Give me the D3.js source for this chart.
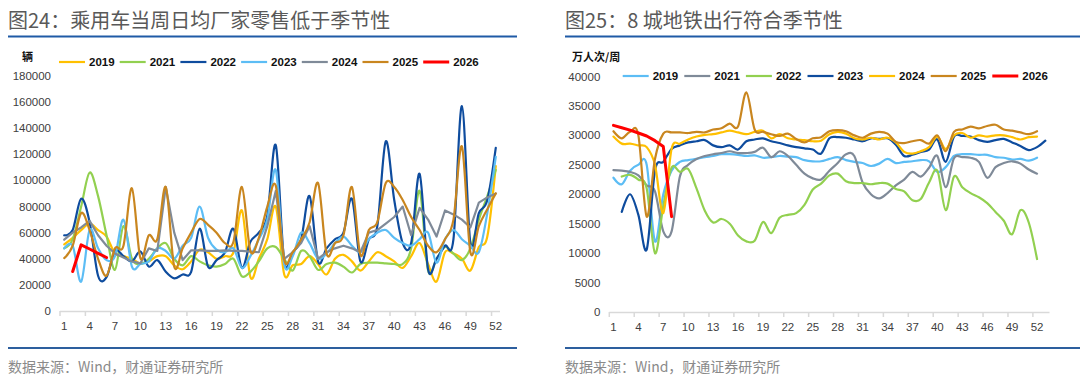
<!DOCTYPE html>
<html>
<head>
<meta charset="utf-8">
<script src="https://cdn.jsdelivr.net/npm/d3@7"></script>
<style>
body { margin: 0; background: #fff; }
svg text { font-family: "Liberation Sans", Arial, "Noto Sans CJK SC", sans-serif; }
.cjk { font-family: "Noto Sans CJK SC", sans-serif !important; }
</style>
</head>
<body>
<svg id="chart" width="1080" height="379"></svg>
<script>
// ---- left chart: car retail per day, weeks 1..52 ----
const weeksLeft = d3.range(1, 53);
const yTicksLeft = [0, 20000, 40000, 60000, 80000, 100000, 120000, 140000, 160000, 180000];
const car2019 = [51000, 56000, 62000, 67000, 62000, 57000, 44000, 42000, 40000, 36500, 38000, 42000, 42000, 35000, 32000, 38000, 47000, 45000, 40000, 42000, 45000, 77000, 26000, 40000, 55000, 80000, 28000, 35000, 36000, 42000, 36000, 28000, 40000, 43000, 38000, 31000, 38000, 45000, 42000, 38000, 33000, 42000, 52000, 36000, 22500, 45000, 44000, 40000, 31000, 49000, 57000, 111000];
const car2021 = [48000, 55000, 80000, 106000, 88000, 58000, 31500, 65000, 40000, 36000, 40000, 48000, 52000, 40000, 35000, 42000, 38000, 35000, 34000, 36000, 40000, 26500, 30000, 38000, 48000, 49000, 40000, 31000, 46000, 42000, 31500, 36000, 37000, 34000, 29500, 36000, 37000, 37000, 36500, 36000, 36000, 48000, 92000, 31000, 40000, 49000, 44000, 39000, 48000, 70000, 88000, 108000];
const car2022 = [58000, 62000, 86000, 68000, 27000, 26000, 46000, 42000, 38000, 45600, 34000, 39000, 30000, 25000, 28000, 30000, 63000, 34000, 39000, 45000, 63000, 33000, 53000, 60000, 73000, 127000, 38000, 45000, 55000, 88000, 38000, 48000, 55000, 60000, 86000, 38000, 55000, 65000, 130000, 85000, 52000, 52000, 105000, 32000, 40000, 50000, 55000, 157000, 52000, 75000, 85000, 125000];
const car2023 = [48000, 50000, 22500, 62000, 48000, 39000, 42000, 70000, 34000, 36000, 38000, 48000, 46000, 40000, 50000, 56000, 80000, 56000, 47000, 45000, 48000, 33000, 42000, 55000, 70000, 108000, 36000, 42000, 60000, 52000, 40000, 44000, 52000, 57000, 50000, 45000, 55000, 60000, 62000, 56000, 52000, 50000, 55000, 60000, 37000, 55000, 62000, 55000, 50000, 45000, 75000, 118000];
const car2024 = [54600, 60000, 64000, 69000, 58000, 50000, 44000, 41000, 38000, 36500, 48000, 46000, 95000, 60000, 39000, 46500, 46500, 46000, 46000, 46500, 46000, 46000, 45500, 45000, 65000, 92000, 40000, 45000, 52000, 65000, 40000, 45000, 48000, 50000, 48000, 45000, 60000, 62000, 67000, 72000, 80000, 58000, 79000, 70000, 57000, 77000, 74000, 70000, 64000, 83000, 87000, 90000];
const car2025 = [40500, 50000, 75000, 62000, 40000, 27000, 48000, 50000, 94000, 40500, 58000, 55000, 95000, 34000, 48000, 60000, 70500, 66000, 60000, 52000, 53000, 95000, 46000, 56000, 80000, 96000, 39000, 45000, 55000, 68000, 98000, 44000, 52000, 58000, 95000, 43000, 62000, 68000, 98000, 95000, 85000, 72000, 62000, 50000, 45000, 55000, 70000, 126000, 45000, 65000, 78000, 90000];
const car2026 = [null, 30200, 50700, 47500, 44200, 41000];

// ---- right chart: metro trips in 8 cities, weeks 1..53 ----
const weeksRight = d3.range(1, 54);
const yTicksRight = [0, 5000, 10000, 15000, 20000, 25000, 30000, 35000, 40000];
const metro2019 = [22800, 21700, 24000, 25000, 25000, 12000, 20000, 24000, 25500, 25800, 26000, 26300, 26500, 26800, 26800, 26700, 26500, 26600, 26200, 26300, 26500, 26400, 26300, 25800, 25600, 25600, 26000, 26300, 25800, 25500, 25300, 24800, 25200, 26000, 25300, 25500, 25600, 25800, 25600, 23800, 24600, 26500, 26800, 26800, 26700, 26700, 26300, 26200, 25900, 26000, 25700, 26200, null];
const metro2021 = [24100, 24000, 23800, 23200, 21500, 20500, 13700, 13700, 23000, 25000, 26000, 26500, 26800, 27000, 27300, 27000, 27000, 27200, 27900, 26300, 27300, 26500, 25000, 23500, 22700, 22500, 24000, 25300, 26800, 26500, 22000, 20000, 19300, 20200, 21500, 22500, 23800, 23000, 24500, 26500, 21200, 26100, 26300, 26200, 25500, 22800, 24600, 25300, 25600, 25200, 24200, 23500, null];
const metro2022 = [null, 23000, 23300, 22500, 21000, 10000, 18000, 24500, 23800, 24300, 21000, 17200, 15200, 15800, 15000, 13000, 12000, 12100, 15300, 13400, 16000, 16500, 16800, 18200, 20800, 21800, 23200, 23500, 22200, 21900, 21900, 21700, 21900, 21800, 20900, 20500, 19000, 19200, 22000, 24000, 17300, 23000, 21200, 20200, 19500, 18500, 17000, 15500, 13200, 17300, 15200, 9000, null];
const metro2023 = [null, 17000, 20000, 16500, 10600, 24000, 25500, 27700, 28300, 28800, 29000, 29200, 28300, 28000, 28300, 27600, 29000, 29300, 29500, 29000, 28700, 28300, 28000, 27800, 27600, 26900, 29500, 29700, 29600, 29300, 29000, 29500, 29400, 29500, 28400, 26500, 26700, 27200, 27600, 29300, 25500, 29800, 29900, 29800, 29200, 28900, 29200, 29400, 28800, 28200, 27500, 28000, 29100];
const metro2024 = [29800, 28600, 28600, 28300, 28000, 25000, 16800, 27700, 28600, 29300, 29800, 30100, 30200, 30500, 30800, 30500, 30200, 30600, 30800, 29500, 30200, 29500, 29300, 29200, 29000, 29100, 30200, 30600, 30300, 29500, 29300, 29600, 29300, 29600, 28800, 27200, 26900, 27300, 28000, 29800, 27700, 30000, 30400, 29600, 30000, 29800, 30000, 30000, 29700, 29300, 29700, 29800, null];
const metro2025 = [30700, 29500, 30600, 30000, 16200, 26000, 30300, 30500, 30500, 30400, 30600, 30500, 31000, 31200, 32000, 31500, 37300, 31000, 30600, 30200, 29900, 30300, 29400, 28800, 29500, 29700, 30700, 30900, 30700, 30000, 29600, 30300, 30600, 30300, 28900, 28700, 29000, 29200, 28600, 30000, 27300, 30600, 31000, 31500, 31200, 31600, 31800, 31000, 30800, 30500, 30200, 30700, null];
const metro2026 = [31700, 31300, 30900, 30400, 29900, 29100, 28100, 16200];

const tickWeeks = [1, 4, 7, 10, 13, 16, 19, 22, 25, 28, 31, 34, 37, 40, 43, 46, 49, 52];

const C_YELLOW = "#ffc000", C_GREEN = "#92d050", C_DARK = "#0e4c9e", C_LIGHT = "#5cbdf5",
      C_GRAY = "#7f8a98", C_ORANGE = "#c9861f", C_RED = "#ff0000";

const svg = d3.select("#chart");
const smooth = d3.curveCardinal.tension(0);

function drawPanel(o) {
  const g = svg.append("g");
  let x = d3.scaleBand().domain(o.weeks).range([o.left, o.right]);
  let y = d3.scaleLinear().domain([0, o.ymax]).range([o.bottom, o.top]);
  const bw = x.bandwidth();

  // title + rules
  g.append("text").attr("class", "cjk").attr("x", o.titleX).attr("y", 28)
    .attr("font-size", 20).attr("fill", "#595959").text(o.title);
  g.append("line").attr("x1", o.titleX).attr("x2", o.ruleEnd).attr("y1", 36.5).attr("y2", 36.5)
    .attr("stroke", "#1f5aa6").attr("stroke-width", 2);
  g.append("line").attr("x1", o.titleX).attr("x2", o.ruleEnd).attr("y1", 348).attr("y2", 348)
    .attr("stroke", "#2d5f9e").attr("stroke-width", 2);
  g.append("text").attr("class", "cjk").attr("x", o.titleX).attr("y", 372)
    .attr("font-size", 14).attr("fill", "#8a8a8a").text("数据来源：Wind，财通证券研究所");

  // unit label
  g.append("text").attr("class", "cjk").attr("x", o.unitX).attr("y", 61)
    .attr("font-size", 11).attr("font-weight", "bold").attr("fill", "#111").text(o.unit);

  // x axis
  g.append("line").attr("x1", o.left).attr("x2", o.right).attr("y1", o.bottom + 0.5).attr("y2", o.bottom + 0.5)
    .attr("stroke", "#d9d9d9").attr("stroke-width", 1.5);
  g.selectAll(".xt").data(tickWeeks).enter().append("line")
    .attr("x1", d => x(d)).attr("x2", d => x(d))
    .attr("y1", o.bottom).attr("y2", o.bottom + 5)
    .attr("stroke", "#d9d9d9").attr("stroke-width", 1.5);
  g.selectAll(".xl").data(tickWeeks).enter().append("text")
    .attr("x", d => x(d) + bw / 2).attr("y", o.bottom + 19)
    .attr("text-anchor", "middle").attr("font-size", 11.5).attr("fill", "#404040")
    .text(d => d);

  // y labels
  g.selectAll(".yl").data(o.yTicks).enter().append("text")
    .attr("x", o.left - 9).attr("y", d => y(d) + 4)
    .attr("text-anchor", "end").attr("font-size", 11.5).attr("fill", "#404040")
    .text(d => d);

  // series
  o.series.forEach(function(s) {
    const pts = s.values.map((v, i) => ({ w: o.weeks[i], v: v }));
    const line = d3.line()
      .defined(d => d.v != null)
      .x(d => x(d.w) + bw / 2)
      .y(d => y(d.v))
      .curve(s.linear ? d3.curveLinear : smooth);
    g.append("path").attr("d", line(pts)).attr("fill", "none")
      .attr("stroke", s.color).attr("stroke-width", s.width || 2.2)
      .attr("stroke-linejoin", "round").attr("stroke-linecap", "round");
  });

  // legend
  o.series.forEach(function(s, i) {
    const lx = o.legendX + i * o.legendStep;
    g.append("line").attr("x1", lx).attr("x2", lx + 26).attr("y1", o.legendY).attr("y2", o.legendY)
      .attr("stroke", s.color).attr("stroke-width", s.width || 2.2);
    g.append("text").attr("x", lx + 30).attr("y", o.legendY + 4)
      .attr("font-size", 11.5).attr("font-weight", "bold").attr("fill", "#111").text(s.name);
  });
}

drawPanel({
  title: "图24：乘用车当周日均厂家零售低于季节性",
  titleX: 8, ruleEnd: 517, unit: "辆", unitX: 22,
  weeks: weeksLeft, ymax: 180000, yTicks: yTicksLeft,
  left: 60, right: 500, top: 76, bottom: 311,
  legendX: 59, legendStep: 60.7, legendY: 62,
  series: [
    { name: "2019", values: car2019, color: C_YELLOW },
    { name: "2021", values: car2021, color: C_GREEN },
    { name: "2022", values: car2022, color: C_DARK },
    { name: "2023", values: car2023, color: C_LIGHT },
    { name: "2024", values: car2024, color: C_GRAY, linear: true },
    { name: "2025", values: car2025, color: C_ORANGE },
    { name: "2026", values: car2026, color: C_RED, linear: true, width: 3 }
  ]
});

drawPanel({
  title: "图25：8 城地铁出行符合季节性",
  titleX: 565, ruleEnd: 1080, unit: "万人次/周", unitX: 572,
  weeks: weeksRight, ymax: 40000, yTicks: yTicksRight,
  left: 609.3, right: 1049.5, top: 76.5, bottom: 312,
  legendX: 622.7, legendStep: 61.6, legendY: 76,
  series: [
    { name: "2019", values: metro2019, color: C_LIGHT },
    { name: "2021", values: metro2021, color: C_GRAY },
    { name: "2022", values: metro2022, color: C_GREEN },
    { name: "2023", values: metro2023, color: C_DARK },
    { name: "2024", values: metro2024, color: C_YELLOW },
    { name: "2025", values: metro2025, color: C_ORANGE },
    { name: "2026", values: metro2026, color: C_RED, linear: true, width: 3 }
  ]
});
</script>
</body>
</html>
